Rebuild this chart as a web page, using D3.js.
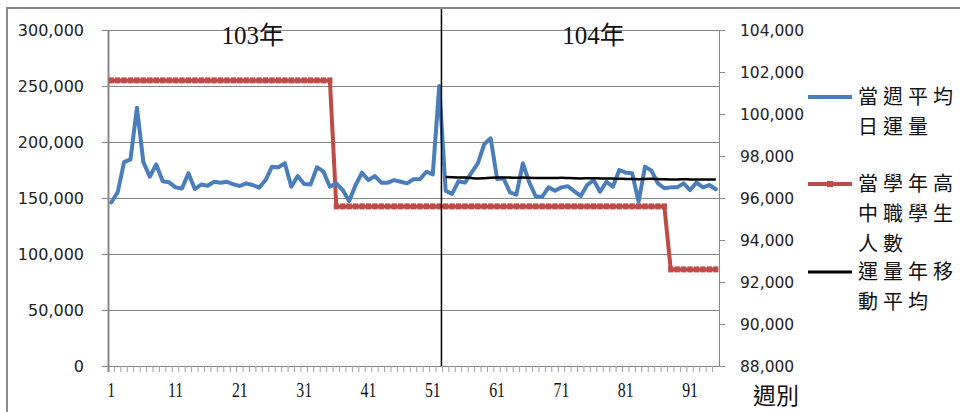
<!DOCTYPE html>
<html>
<head>
<meta charset="utf-8">
<script src="https://cdn.jsdelivr.net/npm/d3@7"></script>
<style>
  body { margin: 0; background: #fff; }
  svg { display: block; }
</style>
</head>
<body>
<svg id="chart" width="960" height="412"></svg>
<script>
// Week numbers shown on the category axis
const weeks = d3.range(1, 96);

// 當週平均日運量 (weekly average daily ridership), weeks 1–95
const dailyRidership = [
  146000, 155000, 182000, 184500, 230500, 182000, 169000, 180000, 165000, 164000,
  159500, 158500, 172000, 158000, 162000, 161000, 164500, 163700, 164500, 162200,
  160700, 163100, 161600, 159200, 166000, 178000, 177400, 181000, 160100, 169600,
  162500, 162000, 177500, 173500, 160100, 163100, 157100, 147300, 161600, 172600,
  166000, 169600, 163700, 163700, 166000, 164500, 163100, 166700, 166700, 173500,
  171000, 250000, 156500, 153600, 165000, 163700, 172500, 181000, 198000, 203300,
  167000, 167500, 155000, 153000, 181000, 164000, 151500, 151000, 159500, 156500,
  159500, 160500, 156000, 151800, 161600, 166000, 155600, 164500, 160100, 175000,
  172600, 172000, 146700, 178000, 174400, 163100, 158700, 159500, 159500, 163100,
  157100, 163700, 159500, 161600, 157800
];

// 當學年高中職學生人數 (senior-high student count for the school year), weeks 1–95
const studentCount = [
  101600, 101600, 101600, 101600, 101600, 101600, 101600, 101600, 101600, 101600,
  101600, 101600, 101600, 101600, 101600, 101600, 101600, 101600, 101600, 101600,
  101600, 101600, 101600, 101600, 101600, 101600, 101600, 101600, 101600, 101600,
  101600, 101600, 101600, 101600, 101600, 95600, 95600, 95600, 95600, 95600,
  95600, 95600, 95600, 95600, 95600, 95600, 95600, 95600, 95600, 95600,
  95600, 95600, 95600, 95600, 95600, 95600, 95600, 95600, 95600, 95600,
  95600, 95600, 95600, 95600, 95600, 95600, 95600, 95600, 95600, 95600,
  95600, 95600, 95600, 95600, 95600, 95600, 95600, 95600, 95600, 95600,
  95600, 95600, 95600, 95600, 95600, 95600, 95600, 92600, 92600, 92600,
  92600, 92600, 92600, 92600, 92600
];

// 運量年移動平均 (52-week moving average of ridership), weeks 53–95
const movingAvgWeeks = d3.range(53, 96);
const movingAverage = [
  168800, 168600, 168400, 168200, 167800, 167500, 167700, 168000,
  168200, 168300, 168200, 168100, 168200, 168000, 167900, 167800, 167800, 167900,
  168000, 167800, 167600, 167500, 167600, 167700, 167500, 167400, 167300, 167200,
  167000, 166900, 166800, 167000, 167100, 166900, 166700, 166600, 166600, 166700,
  166600, 166500, 166600, 166600, 166500
];

// Axis ticks and annotations
const leftTicks = [0, 50000, 100000, 150000, 200000, 250000, 300000];
const rightTicks = [88000, 90000, 92000, 94000, 96000, 98000, 100000, 102000, 104000];
const weekLabels = [1, 11, 21, 31, 41, 51, 61, 71, 81, 91];
const yearLabels = ["103年", "104年"];
const yearLabelWeeks = [23, 76];
const yearStartWeek = 53;
const xAxisTitle = "週別";
const legendItems = [
  { lines: ["當週平均", "日運量"], color: "#4A7EBB", marker: false, width: 4 },
  { lines: ["當學年高", "中職學生", "人數"], color: "#BE4B48", marker: true, width: 4 },
  { lines: ["運量年移", "動平均"], color: "#000000", marker: false, width: 3 }
];

const svg = d3.select("#chart");
const plot = { left: 108, right: 719, top: 30, bottom: 366 };
const gridColor = "#878787";

const x = d3.scaleBand().domain(weeks).range([plot.left, plot.right]);
const cx = w => x(w) + x.bandwidth() / 2;
const y = d3.scaleLinear().domain([0, 300000]).range([plot.bottom, plot.top]);
const yR = d3.scaleLinear().domain([88000, 104000]).range([plot.bottom, plot.top]);

// outer frame
svg.append("rect")
  .attr("x", 7).attr("y", 8).attr("width", 970).attr("height", 420)
  .attr("fill", "none").attr("stroke", "#8a8a8a").attr("stroke-width", 2);

// horizontal gridlines with left tick stubs
svg.append("g").selectAll("line").data(leftTicks).join("line")
  .attr("x1", plot.left - 6).attr("x2", plot.right)
  .attr("y1", d => Math.round(y(d)) + 0.5).attr("y2", d => Math.round(y(d)) + 0.5)
  .attr("stroke", gridColor).attr("stroke-width", 1);

// left and right axis lines
svg.append("line").attr("x1", plot.left + 0.5).attr("x2", plot.left + 0.5)
  .attr("y1", plot.top).attr("y2", plot.bottom + 6)
  .attr("stroke", gridColor).attr("stroke-width", 2);
svg.append("line").attr("x1", plot.right + 0.5).attr("x2", plot.right + 0.5)
  .attr("y1", plot.top).attr("y2", plot.bottom)
  .attr("stroke", gridColor).attr("stroke-width", 1);

// right axis ticks
svg.append("g").selectAll("line").data(rightTicks).join("line")
  .attr("x1", plot.right).attr("x2", plot.right + 6)
  .attr("y1", d => Math.round(yR(d)) + 0.5).attr("y2", d => Math.round(yR(d)) + 0.5)
  .attr("stroke", gridColor).attr("stroke-width", 1);

// category ticks below the x axis
svg.append("g").selectAll("line").data(weeks.slice(1)).join("line")
  .attr("x1", d => x(d)).attr("x2", d => x(d))
  .attr("y1", plot.bottom).attr("y2", plot.bottom + 6)
  .attr("stroke", "#a0a0a0").attr("stroke-width", 1);

// left axis labels
svg.append("g").selectAll("text").data(leftTicks).join("text")
  .attr("x", 84).attr("y", d => y(d)).attr("dy", "0.36em")
  .attr("text-anchor", "end")
  .attr("font-family", "DejaVu Sans, Verdana, sans-serif").attr("font-size", 16)
  .attr("fill", "#222")
  .text(d3.format(","));

// right axis labels
svg.append("g").selectAll("text").data(rightTicks).join("text")
  .attr("x", 740).attr("y", d => yR(d)).attr("dy", "0.36em")
  .attr("font-family", "DejaVu Sans, Verdana, sans-serif").attr("font-size", 15.5)
  .attr("fill", "#222")
  .text(d3.format(","));

// week labels
svg.append("g").selectAll("text").data(weekLabels).join("text")
  .attr("transform", d => `translate(${cx(d)},397) scale(0.72,1)`)
  .attr("text-anchor", "middle")
  .attr("font-family", "Liberation Serif, serif").attr("font-size", 22)
  .attr("fill", "#111")
  .text(d => d);

svg.append("text")
  .attr("x", 776).attr("y", 404).attr("text-anchor", "middle")
  .attr("font-family", "Noto Sans CJK TC, sans-serif").attr("font-size", 23)
  .attr("fill", "#111")
  .text(xAxisTitle);

// student count (right axis) with square markers
const redLine = d3.line().x((d, i) => cx(weeks[i])).y(d => yR(d));
svg.append("path").datum(studentCount)
  .attr("d", redLine).attr("fill", "none")
  .attr("stroke", "#BE4B48").attr("stroke-width", 4).attr("stroke-linejoin", "round");
svg.append("g").selectAll("rect").data(studentCount).join("rect")
  .attr("x", (d, i) => cx(weeks[i]) - 2.6).attr("y", d => yR(d) - 3)
  .attr("width", 5.2).attr("height", 6)
  .attr("fill", "#BE4B48");

// ridership (left axis)
const blueLine = d3.line().x((d, i) => cx(weeks[i])).y(d => y(d));
svg.append("path").datum(dailyRidership)
  .attr("d", blueLine).attr("fill", "none")
  .attr("stroke", "#4A7EBB").attr("stroke-width", 4)
  .attr("stroke-linejoin", "round").attr("stroke-linecap", "round");

// moving average (left axis)
const blackLine = d3.line().x((d, i) => cx(movingAvgWeeks[i])).y(d => y(d)).curve(d3.curveMonotoneX);
svg.append("path").datum(movingAverage)
  .attr("d", blackLine).attr("fill", "none")
  .attr("stroke", "#000").attr("stroke-width", 2.5);

// school-year divider
svg.append("line")
  .attr("x1", x(yearStartWeek) - 1).attr("x2", x(yearStartWeek) - 1)
  .attr("y1", 9).attr("y2", plot.bottom)
  .attr("stroke", "#000").attr("stroke-width", 1.5);

// year annotations
svg.append("g").selectAll("text").data(yearLabels).join("text")
  .attr("x", (d, i) => cx(yearLabelWeeks[i]))
  .attr("y", 44).attr("text-anchor", "middle")
  .attr("font-family", "Liberation Serif, Noto Sans CJK TC, serif").attr("font-size", 25)
  .attr("fill", "#111")
  .text(d => d);

// legend
const legendTop = [97, 184, 272];
legendItems.forEach((item, k) => {
  const g = svg.append("g").attr("transform", `translate(0,${legendTop[k]})`);
  g.append("line").attr("x1", 808).attr("x2", 852).attr("y1", 0).attr("y2", 0)
    .attr("stroke", item.color).attr("stroke-width", item.width);
  if (item.marker) {
    g.append("rect").attr("x", 827).attr("y", -3).attr("width", 6).attr("height", 6)
      .attr("fill", item.color);
  }
  item.lines.forEach((t, j) => {
    g.append("text").attr("x", 858).attr("y", j * 30).attr("dy", "0.36em")
      .attr("font-family", "Noto Sans CJK TC, sans-serif").attr("font-size", 20)
      .attr("letter-spacing", 5).attr("fill", "#111")
      .text(t);
  });
});
</script>
</body>
</html>
